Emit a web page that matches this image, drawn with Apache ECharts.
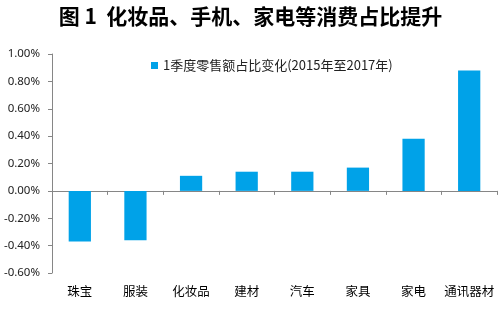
<!DOCTYPE html>
<html><head><meta charset="utf-8">
<script src="https://cdn.jsdelivr.net/npm/echarts@6/dist/echarts.min.js"></script>
<style>html,body{margin:0;padding:0;background:#fff}#c{width:501px;height:334px}</style>
</head><body><div id="c"></div>
<script>
const categories = ['珠宝','服装','化妆品','建材','汽车','家具','家电','通讯器材'];
const values = [-0.37, -0.36, 0.11, 0.14, 0.14, 0.17, 0.38, 0.88];
const seriesName = '1季度零售额占比变化(2015年至2017年)';
const titleText = '图 1  化妆品、手机、家电等消费占比提升';

const chart = echarts.init(document.getElementById('c'));
chart.setOption({
  animation: false,
  title: { text: titleText, left: 'center', top: 1,
    textStyle: { fontSize: 21, fontWeight: 'bold', color: '#000', fontFamily: 'Noto Sans CJK SC' } },
  legend: { top: 54, left: 146, itemWidth: 7, itemHeight: 7, itemGap: 4,
    textStyle: { fontSize: 13, color: '#222', fontFamily: 'Noto Sans CJK SC' },
    data: [{ name: seriesName, icon: 'rect' }] },
  grid: { left: 52, right: 4, top: 54, bottom: 61 },
  xAxis: { type: 'category', data: categories,
    axisLine: { onZero: true, lineStyle: { color: '#868686' } },
    axisTick: { show: true, alignWithLabel: false, length: 4, lineStyle: { color: '#868686' } },
    axisLabel: { interval: 0, margin: 12, color: '#000', fontSize: 12.5, fontFamily: 'Noto Sans CJK SC' },
    position: 'bottom'
  },
  yAxis: { type: 'value', min: -0.6, max: 1.0, interval: 0.2,
    splitLine: { show: false },
    axisLine: { show: true, lineStyle: { color: '#868686' } },
    axisTick: { show: true, length: 4, lineStyle: { color: '#868686' } },
    axisLabel: { color: '#222', fontSize: 11.5, margin: 12, fontFamily: 'Noto Sans',
      formatter: v => v.toFixed(2) + '%' } },
  series: [{ name: seriesName, type: 'bar', data: values, barWidth: '40%',
    itemStyle: { color: '#00A2E8' } }]
});
</script></body></html>
